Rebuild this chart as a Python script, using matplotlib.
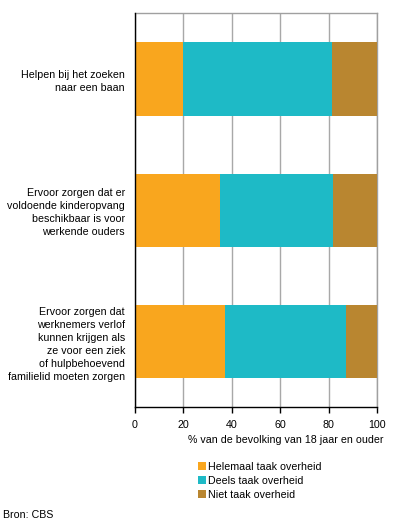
import matplotlib
matplotlib.use("Agg")
import matplotlib.pyplot as plt
from matplotlib.patches import Patch
import numpy as np

plt.rcParams['font.family'] = ['Liberation Sans', 'DejaVu Sans']

categories = [
    "Helpen bij het zoeken\nnaar een baan",
    "Ervoor zorgen dat er\nvoldoende kinderopvang\nbeschikbaar is voor\nwerkende ouders",
    "Ervoor zorgen dat\nwerknemers verlof\nkunnen krijgen als\nze voor een ziek\nof hulpbehoevend\nfamilielid moeten zorgen",
]
helemaal = [20.0, 35.2, 37.2]
deels = [61.5, 46.4, 50.0]
niet = [18.5, 18.4, 12.8]
series_names = ["Helemaal taak overheid", "Deels taak overheid", "Niet taak overheid"]
colors = ["#F9A61E", "#1EBAC6", "#B98630"]
xticks = [0, 20, 40, 60, 80, 100]

FS = 7.7
W, H = 396, 526
fig = plt.figure(figsize=(W / 100, H / 100), dpi=100)
ax = fig.add_axes([134.7 / W, 1 - 407.3 / H, (377.3 - 134.7) / W, (407.3 - 13.3) / H])

y = np.arange(len(categories))
left = np.zeros(len(categories))
for vals, c, name in zip([helemaal, deels, niet], colors, series_names):
    ax.barh(y, vals, left=left, height=0.56, color=c, label=name, zorder=3)
    left += np.array(vals)

ax.set_ylim(2.5, -0.5)
ax.set_xlim(0, 100)
ax.set_xticks(xticks)
ax.set_xticklabels([str(t) for t in xticks], fontsize=FS)
ax.set_yticks(y)
ax.set_yticklabels(categories, fontsize=FS, linespacing=1.37, ha='right')
ax.tick_params(axis='y', length=0, pad=7)
ax.tick_params(axis='x', direction='out', length=4, width=1, color='black', pad=5)
ax.xaxis.grid(True, color='#A8A8A8', linewidth=1, zorder=0)
ax.set_axisbelow(True)
for s in ['top', 'right']:
    ax.spines[s].set_color('#A0A0A0')
    ax.spines[s].set_linewidth(1)
for s in ['left', 'bottom']:
    ax.spines[s].set_color('black')
    ax.spines[s].set_linewidth(1)
    ax.spines[s].set_zorder(5)

fig.text(383 / W, 1 - 440 / H, "% van de bevolking van 18 jaar en ouder", ha='right', va='center', fontsize=FS)

handles = [Patch(facecolor=c, edgecolor='none') for c in colors]
fig.legend(handles, series_names, loc='upper left', bbox_to_anchor=(197.5 / W, 1 - 462 / H),
           frameon=False, fontsize=FS, handlelength=0.75, handleheight=0.75, handletextpad=0.25,
           labelspacing=0.38, borderpad=0, borderaxespad=0)

fig.text(3 / W, 1 - 514.5 / H, "Bron: CBS", ha='left', va='center', fontsize=FS)

fig.savefig("out.png", dpi=100)
